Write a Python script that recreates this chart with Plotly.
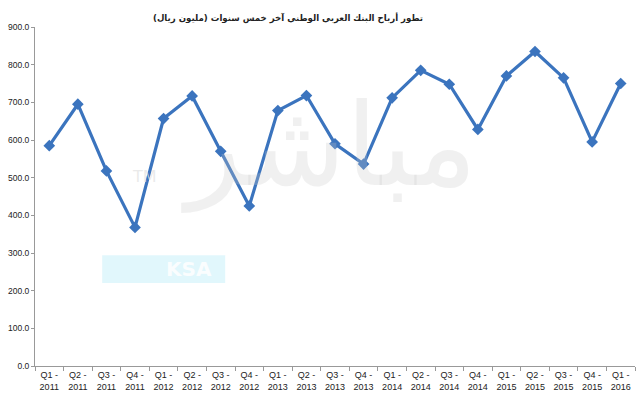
import plotly.graph_objects as go

quarters = ["Q1 -", "Q2 -", "Q3 -", "Q4 -", "Q1 -", "Q2 -", "Q3 -", "Q4 -", "Q1 -", "Q2 -", "Q3 -",
            "Q4 -", "Q1 -", "Q2 -", "Q3 -", "Q4 -", "Q1 -", "Q2 -", "Q3 -", "Q4 -", "Q1 -"]
years = ["2011", "2011", "2011", "2011", "2012", "2012", "2012", "2012", "2013", "2013", "2013",
         "2013", "2014", "2014", "2014", "2014", "2015", "2015", "2015", "2015", "2016"]
profits = [585, 695, 518, 368, 657, 717, 570, 425, 678, 718, 590,
           536, 712, 785, 748, 628, 770, 835, 765, 595, 750]
y_ticks = [0, 100, 200, 300, 400, 500, 600, 700, 800, 900]
title_text = "تطور أرباح البنك العربي الوطني آخر خمس سنوات (مليون ريال)"

categories = [f"{q}<br>{y}" for q, y in zip(quarters, years)]

fig = go.Figure()
fig.add_trace(go.Scatter(
    x=categories, y=profits, mode="lines+markers",
    line=dict(color="#3B74BE", width=3.2),
    marker=dict(symbol="diamond", size=9, color="#3B74BE"),
    hoverinfo="skip",
))

# watermark
fig.add_annotation(xref="paper", yref="paper", x=0.49, y=0.65, text="مباشر",
                   showarrow=False, font=dict(family="DejaVu Sans", size=115, color="rgba(200,200,200,0.28)"))
fig.add_shape(type="rect", xref="paper", yref="paper", x0=0.112, x1=0.317, y0=0.245, y1=0.327,
              fillcolor="rgba(222,246,252,0.9)", line=dict(width=0), layer="below")
fig.add_annotation(xref="paper", yref="paper", x=0.215, y=0.286, yanchor="middle",
                   text="<b>KSA</b>", showarrow=False,
                   font=dict(family="DejaVu Sans", size=20, color="rgba(250,253,254,1)"))
fig.add_annotation(xref="paper", yref="paper", x=0.158, y=0.56, text="TM", showarrow=False,
                   font=dict(family="DejaVu Sans", size=16, color="rgba(225,225,225,0.7)"))

fig.update_layout(
    width=640, height=400,
    margin=dict(l=35, r=5, t=27, b=34, autoexpand=False),
    paper_bgcolor="white", plot_bgcolor="white",
    showlegend=False,
    hovermode=False,
    title=dict(text=f"<b>{title_text}</b>", x=0.45, xanchor="center", y=0.955, yanchor="middle",
               xref="container", yref="container",
               font=dict(family="DejaVu Sans", size=8.6, color="#222")),
    font=dict(family="Liberation Sans", size=9, color="#222"),
)
fig.update_xaxes(type="category", showline=True, linecolor="#999", linewidth=1,
                 ticks="outside", tickson="boundaries", ticklen=4, tickcolor="#999",
                 showgrid=False, tickfont=dict(size=9), range=[-0.5, 20.5],
                 tickangle=0, automargin=False)
fig.update_yaxes(range=[0, 900], tickvals=y_ticks, tickformat=".1f", showline=True,
                 linecolor="#999", linewidth=1, ticks="outside", ticklen=3, tickcolor="#999",
                 showgrid=False, zeroline=False, tickfont=dict(size=8.5), automargin=False)

fig.write_html("out.html", config={"displayModeBar": False},
               post_script="document.body.style.margin='0';document.body.style.padding='0';")
